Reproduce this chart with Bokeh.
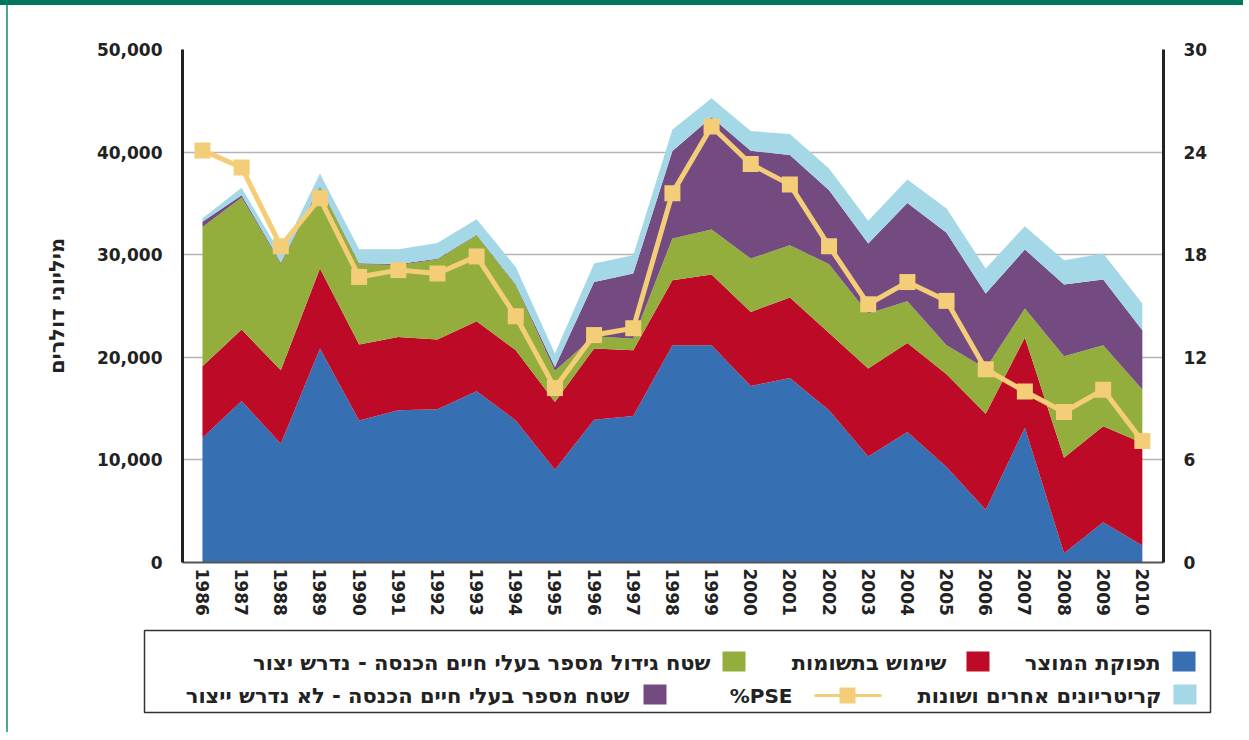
from bokeh.plotting import figure
from bokeh.models import ColumnDataSource, Range1d, LinearAxis, FixedTicker, NumeralTickFormatter
from bokeh.layouts import column
from bokeh.embed import file_html
from bokeh.resources import INLINE
from bokeh.core.properties import value

# ---------------- data ----------------
years = list(range(1986, 2011))
product_output = [12160, 15740, 11580, 20850, 13850, 14830, 14930, 16680, 13850, 9040,
                  13920, 14270, 21170, 21170, 17200, 17980, 14830, 10340, 12710, 9300,
                  5140, 13140, 910, 3930, 1660]
input_use = [6960, 6960, 7150, 7800, 7390, 7150, 6800, 6830, 6830, 6600,
             6930, 6410, 6340, 6900, 7220, 7850, 7540, 8560, 8690, 9040,
             9370, 8780, 9300, 9340, 9980]
area_required = [13580, 12880, 10410, 7970, 7830, 7020, 7800, 8390, 6340, 3060,
                 1200, 1140, 4070, 4390, 5210, 5100, 6700, 5360, 4060, 2830,
                 4390, 2830, 9890, 7900, 5210]
area_not_required = [500, 220, 100, 80, 100, 100, 70, 50, 80, 350,
                     5300, 6340, 8520, 10930, 10500, 8780, 7220, 6830, 9590, 10960,
                     7310, 5760, 6990, 6410, 5780]
other_criteria = [350, 720, 800, 1220, 1370, 1440, 1550, 1510, 1710, 1310,
                  1790, 1790, 2110, 1850, 1920, 2050, 2120, 2210, 2280, 2380,
                  2440, 2270, 2370, 2540, 2610]
pse_pct = [24.1, 23.1, 18.5, 21.3, 16.7, 17.1, 16.9, 17.9, 14.4, 10.2,
           13.3, 13.7, 21.6, 25.5, 23.3, 22.1, 18.5, 15.1, 16.4, 15.3,
           11.3, 10.0, 8.8, 10.1, 7.1]

series_names = ["תפוקת המוצר",
                "שימוש בתשומות",
                "שטח גידול מספר בעלי חיים הכנסה - נדרש יצור",
                "שטח מספר בעלי חיים הכנסה - לא נדרש ייצור",
                "קריטריונים אחרים ושונות"]
pse_name = "%PSE"
y_title = "מיליוני דולרים"
left_ticks = [0, 10000, 20000, 30000, 40000, 50000]
right_ticks = [0, 6, 12, 18, 24, 30]

# ---------------- styles ----------------
colors = ["#3670b2", "#bd0a27", "#93ae3c", "#734b80", "#a5d8e7"]
pse_color = "#f4cd78"
FONT = "DejaVu Sans"

src = ColumnDataSource(dict(year=years, s0=product_output, s1=input_use, s2=area_required,
                            s3=area_not_required, s4=other_criteria, pse=pse_pct))

p = figure(width=1235, height=615, x_range=Range1d(1985.49, 2010.54), y_range=Range1d(0, 50000),
           toolbar_location=None, output_backend="svg",
           min_border_left=174, min_border_right=80, min_border_top=44, min_border_bottom=58)
p.outline_line_color = None
p.background_fill_color = "white"
p.border_fill_color = "white"
p.frame_align = False

p.varea_stack(stackers=["s0", "s1", "s2", "s3", "s4"], x="year", color=colors, source=src)

p.extra_y_ranges = {"pse": Range1d(0, 30)}
p.line("year", "pse", source=src, y_range_name="pse", line_color=pse_color, line_width=5)
p.scatter("year", "pse", source=src, y_range_name="pse", marker="square", size=16,
          fill_color=pse_color, line_color=None)

# grid
p.xgrid.visible = False
p.ygrid.ticker = FixedTicker(ticks=left_ticks)
p.ygrid.grid_line_color = "#b5b5b5"
p.ygrid.grid_line_width = 1.5

# axes
yax = p.yaxis[0]
yax.ticker = FixedTicker(ticks=left_ticks)
yax.formatter = NumeralTickFormatter(format="0,0")
yax.axis_line_color = "#222222"
yax.axis_line_width = 3
yax.major_tick_line_color = None
yax.minor_tick_line_color = None
yax.major_label_standoff = 14
yax.major_label_text_font = FONT
yax.major_label_text_font_style = "bold"
yax.major_label_text_font_size = "17px"
yax.major_label_text_color = "#222222"
yax.axis_label = y_title
yax.axis_label_text_font = FONT
yax.axis_label_text_font_style = "bold"
yax.axis_label_text_font_size = "21px"
yax.axis_label_text_color = "#222222"
yax.axis_label_standoff = 25

rax = LinearAxis(y_range_name="pse", ticker=FixedTicker(ticks=right_ticks))
rax.axis_line_color = "#222222"
rax.axis_line_width = 3
rax.major_tick_line_color = None
rax.minor_tick_line_color = None
rax.major_label_standoff = 14
rax.major_label_text_font = FONT
rax.major_label_text_font_style = "bold"
rax.major_label_text_font_size = "17px"
rax.major_label_text_color = "#222222"
p.add_layout(rax, "right")

xax = p.xaxis[0]
xax.ticker = FixedTicker(ticks=years)
xax.major_label_orientation = "vertical"
xax.axis_line_color = "#555555"
xax.axis_line_width = 2
xax.major_tick_line_color = None
xax.minor_tick_line_color = None
xax.major_label_standoff = 0
xax.major_label_text_font = FONT
xax.major_label_text_font_style = "bold"
xax.major_label_text_font_size = "17px"
xax.major_label_text_color = "#222222"

# ---------------- legend (own panel, page pixel coordinates) ----------------
lg = figure(width=1235, height=112, x_range=Range1d(8, 1243), y_range=Range1d(732, 620),
            toolbar_location=None, output_backend="svg", min_border=0,
            x_axis_location=None, y_axis_location=None)
lg.outline_line_color = None
lg.grid.visible = False
lg.background_fill_color = "white"
lg.border_fill_color = "white"
lg.frame_align = False

lg.quad(left=[144], right=[1210], top=[630], bottom=[712], fill_color=None,
        line_color="#333333", line_width=1.5)

# square swatches: (series index, left, center y, text gap)
sw = [(0, 1172, 661, 12), (1, 966, 661, 20), (2, 722, 661, 12), (4, 1173, 694, 12), (3, 643, 694, 14)]
for i, xl, yc, gap in sw:
    lg.quad(left=[xl], right=[xl + 23], top=[yc - 10], bottom=[yc + 10],
            fill_color=colors[i], line_color=None)
    lg.text(x=[xl - gap], y=[yc + 1], text=[series_names[i]], text_align="right",
            text_baseline="middle", text_font=value(FONT), text_font_style="bold",
            text_font_size="21px", text_color="#222222")

lg.line(x=[814, 881], y=[695, 695], line_color=pse_color, line_width=3)
lg.scatter(x=[847], y=[695], marker="square", size=16, fill_color=pse_color, line_color=None)
lg.text(x=[792], y=[695], text=[pse_name], text_align="right", text_baseline="middle",
        text_font=value(FONT), text_font_style="bold", text_font_size="20px", text_color="#222222")

layout = column(p, lg, styles={
    "border-top": "5px solid #00765a",
    "padding-left": "8px",
    "background": "linear-gradient(to right, #ffffff 6px, #4da88f 6px, #4da88f 8px, #ffffff 8px)",
})

open("out.html", "w").write(file_html(layout, INLINE))
